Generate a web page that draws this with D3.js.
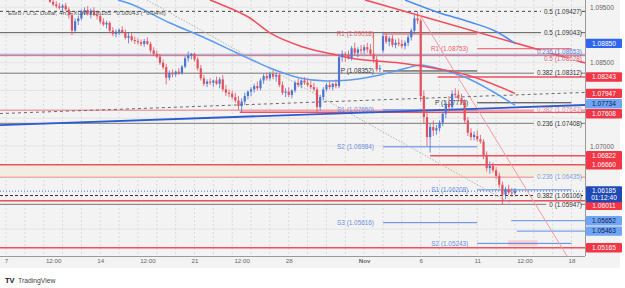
<!DOCTYPE html>
<html>
<head>
<meta charset="utf-8">
<script src="https://cdn.jsdelivr.net/npm/d3@7"></script>
<style>
  body { margin: 0; background: #fff; }
  svg { font-family: "Liberation Sans", Arial, sans-serif; }
</style>
</head>
<body>
<svg id="chart" width="625" height="288"></svg>
<script>
// EUR/USD 4h candles, Oct 9 (08:00 bar) .. Nov 13 (first bar); [open, high, low, close]
var firstBar = 2 + 2 / 6;   // in trading days from Mon Oct 7
var ohlc = [
  // Oct 9
  [1.0966,1.0972,1.0958,1.0960],[1.0960,1.0965,1.0952,1.0955],[1.0955,1.0961,1.0948,1.0952],[1.0952,1.0958,1.0946,1.0949],
  // Oct 10
  [1.0949,1.0956,1.0943,1.0953],[1.0953,1.0958,1.0944,1.0946],[1.0946,1.0950,1.0930,1.0936],[1.0936,1.0940,1.0900,1.0908],[1.0908,1.0930,1.0903,1.0925],[1.0925,1.0935,1.0918,1.0930],
  // Oct 11
  [1.0930,1.0946,1.0927,1.0942],[1.0942,1.0950,1.0936,1.0945],[1.0945,1.0952,1.0935,1.0938],[1.0938,1.0948,1.0930,1.0944],[1.0944,1.0950,1.0934,1.0936],[1.0936,1.0942,1.0928,1.0934],
  // Oct 14
  [1.0934,1.0937,1.0920,1.0924],[1.0924,1.0930,1.0916,1.0919],[1.0919,1.0926,1.0912,1.0922],[1.0922,1.0925,1.0903,1.0908],[1.0908,1.0914,1.0898,1.0902],[1.0902,1.0910,1.0896,1.0906],
  // Oct 15
  [1.0906,1.0912,1.0900,1.0909],[1.0909,1.0916,1.0903,1.0905],[1.0905,1.0910,1.0892,1.0895],[1.0895,1.0904,1.0885,1.0898],[1.0898,1.0903,1.0888,1.0891],[1.0891,1.0897,1.0884,1.0889],
  // Oct 16
  [1.0889,1.0894,1.0883,1.0887],[1.0887,1.0892,1.0880,1.0884],[1.0884,1.0893,1.0879,1.0889],[1.0889,1.0896,1.0882,1.0884],[1.0884,1.0888,1.0868,1.0872],[1.0872,1.0878,1.0862,1.0866],
  // Oct 17
  [1.0866,1.0872,1.0858,1.0861],[1.0861,1.0866,1.0846,1.0850],[1.0850,1.0856,1.0838,1.0842],[1.0842,1.0848,1.0811,1.0823],[1.0823,1.0836,1.0818,1.0832],[1.0832,1.0838,1.0824,1.0829],
  // Oct 18
  [1.0829,1.0836,1.0825,1.0834],[1.0834,1.0840,1.0828,1.0831],[1.0831,1.0846,1.0829,1.0843],[1.0843,1.0862,1.0840,1.0858],[1.0858,1.0870,1.0852,1.0863],[1.0863,1.0868,1.0856,1.0866],
  // Oct 21
  [1.0866,1.0868,1.0852,1.0856],[1.0856,1.0860,1.0836,1.0840],[1.0840,1.0846,1.0818,1.0822],[1.0822,1.0828,1.0808,1.0812],[1.0812,1.0820,1.0806,1.0816],[1.0816,1.0822,1.0810,1.0814],
  // Oct 22
  [1.0814,1.0820,1.0806,1.0818],[1.0818,1.0825,1.0810,1.0812],[1.0812,1.0824,1.0804,1.0820],[1.0820,1.0828,1.0798,1.0802],[1.0802,1.0810,1.0790,1.0796],[1.0796,1.0802,1.0788,1.0794],
  // Oct 23
  [1.0794,1.0800,1.0784,1.0788],[1.0788,1.0796,1.0778,1.0782],[1.0782,1.0790,1.0765,1.0772],[1.0772,1.0786,1.0761,1.0780],[1.0780,1.0796,1.0774,1.0790],[1.0790,1.0800,1.0784,1.0798],
  // Oct 24
  [1.0798,1.0806,1.0790,1.0802],[1.0802,1.0812,1.0796,1.0808],[1.0808,1.0816,1.0800,1.0804],[1.0804,1.0822,1.0800,1.0818],[1.0818,1.0830,1.0812,1.0826],[1.0826,1.0832,1.0818,1.0822],
  // Oct 25
  [1.0822,1.0834,1.0818,1.0830],[1.0830,1.0836,1.0820,1.0825],[1.0825,1.0832,1.0816,1.0828],[1.0828,1.0832,1.0806,1.0810],[1.0810,1.0816,1.0792,1.0796],[1.0796,1.0804,1.0788,1.0798],
  // Oct 28
  [1.0798,1.0806,1.0788,1.0792],[1.0792,1.0802,1.0786,1.0800],[1.0800,1.0818,1.0796,1.0814],[1.0814,1.0822,1.0806,1.0810],[1.0810,1.0820,1.0804,1.0818],[1.0818,1.0824,1.0810,1.0814],
  // Oct 29
  [1.0814,1.0820,1.0806,1.0810],[1.0810,1.0818,1.0802,1.0806],[1.0806,1.0814,1.0798,1.0802],[1.0802,1.0806,1.0761,1.0770],[1.0770,1.0792,1.0764,1.0788],[1.0788,1.0806,1.0782,1.0802],
  // Oct 30
  [1.0802,1.0814,1.0798,1.0810],[1.0810,1.0816,1.0802,1.0806],[1.0806,1.0814,1.0800,1.0812],[1.0812,1.0820,1.0804,1.0808],[1.0808,1.0866,1.0804,1.0860],[1.0860,1.0872,1.0852,1.0866],
  // Oct 31
  [1.0866,1.0870,1.0852,1.0864],[1.0864,1.0872,1.0856,1.0858],[1.0858,1.0880,1.0854,1.0876],[1.0876,1.0886,1.0862,1.0868],[1.0868,1.0878,1.0860,1.0874],[1.0874,1.0882,1.0866,1.0872],
  // Nov 1
  [1.0872,1.0882,1.0866,1.0878],[1.0878,1.0886,1.0868,1.0874],[1.0874,1.0884,1.0862,1.0866],[1.0866,1.0905,1.0850,1.0856],[1.0856,1.0862,1.0834,1.0838],[1.0838,1.0846,1.0833,1.0840],
  // Nov 4
  [1.0872,1.0906,1.0868,1.0898],[1.0898,1.0904,1.0884,1.0888],[1.0888,1.0898,1.0880,1.0894],[1.0894,1.0900,1.0878,1.0882],[1.0882,1.0892,1.0876,1.0886],[1.0886,1.0894,1.0880,1.0884],
  // Nov 5
  [1.0884,1.0892,1.0876,1.0880],[1.0880,1.0890,1.0874,1.0886],[1.0886,1.0900,1.0880,1.0896],[1.0896,1.0912,1.0890,1.0908],[1.0908,1.0936,1.0902,1.0930],[1.0930,1.0943,1.0920,1.0926],
  // Nov 6
  [1.0926,1.0930,1.0780,1.0790],[1.0790,1.0800,1.0740,1.0752],[1.0752,1.0762,1.0700,1.0716],[1.0716,1.0740,1.0688,1.0734],[1.0734,1.0746,1.0718,1.0728],[1.0728,1.0738,1.0720,1.0732],
  // Nov 7
  [1.0732,1.0746,1.0726,1.0742],[1.0742,1.0762,1.0736,1.0758],[1.0758,1.0782,1.0750,1.0776],[1.0776,1.0790,1.0762,1.0770],[1.0770,1.0800,1.0764,1.0794],[1.0794,1.0804,1.0786,1.0792],
  // Nov 8
  [1.0792,1.0800,1.0782,1.0786],[1.0786,1.0794,1.0774,1.0778],[1.0778,1.0784,1.0740,1.0746],[1.0746,1.0752,1.0718,1.0724],[1.0724,1.0732,1.0710,1.0716],[1.0716,1.0726,1.0710,1.0720],
  // Nov 11
  [1.0718,1.0728,1.0708,1.0712],[1.0712,1.0720,1.0704,1.0708],[1.0708,1.0712,1.0676,1.0682],[1.0682,1.0690,1.0654,1.0660],[1.0660,1.0672,1.0650,1.0664],[1.0664,1.0670,1.0652,1.0656],
  // Nov 12
  [1.0656,1.0662,1.0640,1.0646],[1.0646,1.0652,1.0624,1.0630],[1.0630,1.0636,1.0595,1.0612],[1.0612,1.0626,1.0604,1.0622],[1.0622,1.0630,1.0612,1.0616],[1.0616,1.0624,1.0608,1.0615],
  // Nov 13
  [1.0615,1.0624,1.0612,1.06185]
];

var priceTicks = [1.095, 1.09, 1.085, 1.08, 1.075, 1.07, 1.065, 1.06, 1.055];
var timeTicks = [[0,"7"],[2.5,"12:00"],[5,"14"],[7.5,"12:00"],[10,"21"],[12.5,"12:00"],[15,"28"],[19,"Nov"],[22,"6"],[25,"11"],[27.5,"12:00"],[30,"18"]];

// moving averages, [trading day, price]
var maFast = [[5.94,1.09632],[6.47,1.09578],[8.70,1.09217],[10.45,1.08964],[12.25,1.08676],[14.01,1.08405],[15.60,1.08225],[17.03,1.08171],[18.25,1.08189],[19.84,1.08279],[21.27,1.08405],[21.96,1.08459],[23.18,1.08369],[24.46,1.08225],[25.68,1.08009],[27.0,1.07734]];
var maMid = [[10.82,1.09632],[11.35,1.09560],[12.94,1.09307],[14.01,1.09037],[15.76,1.08784],[17.56,1.08640],[18.25,1.08586],[20.90,1.08495],[22.65,1.08405],[24.46,1.08279],[26.21,1.08063],[27.0,1.07947]];
var maSlow = [[21.17,1.09632],[23.02,1.09397],[24.62,1.09235],[26.05,1.09055],[27.0,1.08850]];

// drawn trend lines: [d1, p1, d2, p2]
var trendLines = [
  { pts: [19.05,1.09632,30.72,1.08496], color: "#f04f5d", width: 1.6, dash: null },
  { pts: [21.96,1.09361,29.76,1.05015], color: "#f39aa2", width: 1, dash: null },
  { pts: [7.48,1.09632,26.74,1.05971], color: "#b4b4b4", width: 1, dash: "1.5,1.5" },
  { pts: [-0.32,1.07377,30.72,1.07738], color: "#2c5bd0", width: 1.8, dash: null },
  { pts: [-0.32,1.07584,30.72,1.07965], color: "#6a6a6a", width: 1, dash: "3,3" }
];

// fibonacci levels (full width, label at the right)
var fibLevels = [
  { p: 1.09427, text: "0.5 (1.09427)",   color: "#444",    tc: "#333",    dash: "3,3", dy: 0 },
  { p: 1.09043, text: "0.5 (1.09043)",   color: "#5c5c5c", tc: "#333",    dash: null,  dy: 0 },
  { p: 1.08653, text: "0.236 (1.08653)", color: "#8aa4e2", tc: "#5a7bd0", dash: null,  dy: -2.6 },
  { p: 1.08628, text: "0.5 (1.08628)",   color: "#e8616d", tc: "#e06470", dash: null,  dy: 3.6 },
  { p: 1.08312, text: "0.382 (1.08312)", color: "#777",    tc: "#333",    dash: null,  dy: 0 },
  { p: 1.07643, text: "0.382 (1.07643)", color: "#eea0a8", tc: "#e58a94", dash: null,  dy: 0 },
  { p: 1.07408, text: "0.236 (1.07408)", color: "#777",    tc: "#333",    dash: null,  dy: 0 },
  { p: 1.06435, text: "0.236 (1.06435)", color: "#eeaab0", tc: "#7d9fe0", dash: null,  dy: 0 },
  { p: 1.06106, text: "0.382 (1.06106)", color: "#333",    tc: "#333",    dash: "3,2", dy: 0 },
  { p: 1.05947, text: "0 (1.05947)",     color: "#777",    tc: "#333",    dash: null,  dy: 0 }
];

// weekly pivots: label, price, from day, to day
var pivots = [
  ["R1", 1.09018, 20, 25, "#f04f5d"],
  ["P",  1.08352, 20, 25, "#333"],
  ["S1", 1.07650, 20, 25, "#5b84e0"],
  ["S2", 1.06984, 20, 25, "#5b84e0"],
  ["S3", 1.05616, 20, 25, "#5b84e0"],
  ["R1", 1.08753, 25, 30, "#f04f5d"],
  ["P",  1.07778, 25, 30, "#333"],
  ["S1", 1.06208, 25, 30, "#5b84e0"],
  ["S2", 1.05243, 25, 30, "#5b84e0"]
];

// horizontal rays with a price tag on the axis
var rays = [
  [1.08243, 22.9, "#f04f5d"],
  [1.07608, 12.4, "#f04f5d"],
  [1.06822, 22.5, "#f04f5d"],
  [1.06660, -1,   "#f04f5d"],
  [1.06011, -1,   "#f04f5d"],
  [1.05165, -1,   "#f04f5d"],
  [1.05652, 26.8, "#7aa3ee"],
  [1.05463, 27.1, "#7aa3ee"]
];

// price tags on the axis: price, fill, text colour, nudge (px) where tags collide
var axisTags = [
  [1.08850, "#2f66f0", "#fff", 0],
  [1.08243, "#f23645", "#fff", 0],
  [1.07947, "#f23645", "#fff", 0],
  [1.07734, "#6fa4f6", "#10204a", -1.5],
  [1.07608, "#f23645", "#fff", 1.5],
  [1.06822, "#f23645", "#fff", 0],
  [1.06660, "#f23645", "#fff", 0],
  [1.06011, "#f23645", "#fff", 4.5],
  [1.05652, "#6fa4f6", "#10204a", 0],
  [1.05463, "#6fa4f6", "#10204a", 0],
  [1.05165, "#f23645", "#fff", 0]
];

var lastPrice = 1.06185;
var countdown = "01:12:40";
var zoneTop = 1.06660, zoneBottom = 1.06435;

var plotR = 585, plotB = 256;
var upColor = "#4c74d2", downColor = "#e3505d";

var x = d3.scaleLinear().domain([0, 30]).range([6, 571.5]);
var y = d3.scaleLinear().domain([1.095, 1.05165]).range([7.3, 247.7]);

var svg = d3.select("#chart");

svg.append("rect").attr("width", 620).attr("height", 268).attr("fill", "#f3f3f3");

svg.append("clipPath").attr("id", "plot")
  .append("rect").attr("width", plotR).attr("height", plotB);

var plot = svg.append("g").attr("clip-path", "url(#plot)");

// grid
plot.selectAll(".hgrid").data(priceTicks).enter().append("line")
  .attr("x1", 0).attr("x2", plotR)
  .attr("y1", function(d) { return y(d); }).attr("y2", function(d) { return y(d); })
  .attr("stroke", "#e5e5e5");
plot.selectAll(".vgrid").data(d3.range(0, 31)).enter().append("line")
  .attr("x1", function(d) { return x(d); }).attr("x2", function(d) { return x(d); })
  .attr("y1", 0).attr("y2", plotB)
  .attr("stroke", "#dadada").attr("stroke-dasharray", "2,2");

// zone
plot.append("rect")
  .attr("x", 0).attr("width", plotR)
  .attr("y", y(zoneTop)).attr("height", y(zoneBottom) - y(zoneTop))
  .attr("fill", "#f3ece1");

// faint highlight near S2
plot.append("rect")
  .attr("x", x(26.65)).attr("width", x(28.2) - x(26.65))
  .attr("y", y(1.05300)).attr("height", y(1.05200) - y(1.05300))
  .attr("fill", "#f6c8cc").attr("opacity", 0.8);

// fib lines
plot.selectAll(".fib").data(fibLevels).enter().append("line")
  .attr("x1", 0).attr("x2", plotR)
  .attr("y1", function(d) { return y(d.p); }).attr("y2", function(d) { return y(d.p); })
  .attr("stroke", function(d) { return d.color; })
  .attr("stroke-width", function(d) { return d.color === "#eea0a8" || d.color === "#eeaab0" ? 1.5 : 1; })
  .attr("stroke-dasharray", function(d) { return d.dash; });

// rays
plot.selectAll(".ray").data(rays).enter().append("line")
  .attr("x1", function(d) { return Math.max(0, x(d[1])); }).attr("x2", plotR)
  .attr("y1", function(d) { return y(d[0]); }).attr("y2", function(d) { return y(d[0]); })
  .attr("stroke", function(d) { return d[2]; })
  .attr("stroke-width", function(d) { return d[2] === "#f04f5d" ? 1.6 : 1.2; });

// pivots
plot.selectAll(".piv").data(pivots).enter().append("line")
  .attr("x1", function(d) { return x(d[2]); }).attr("x2", function(d) { return x(d[3]); })
  .attr("y1", function(d) { return y(d[1]); }).attr("y2", function(d) { return y(d[1]); })
  .attr("stroke", function(d) { return d[4]; }).attr("stroke-width", 1);
plot.selectAll(".pivt").data(pivots).enter().append("text")
  .attr("x", function(d) { return x(d[2]) - 9; })
  .attr("y", function(d) { return y(d[1]) + 2.2; })
  .attr("text-anchor", "end").attr("font-size", 6.4)
  .attr("fill", function(d) { return d[4] === "#333" ? "#333" : (d[4] === "#f04f5d" ? "#ea5f6b" : "#6b8fe0"); })
  .text(function(d) { return d[0] + " (" + d[1].toFixed(5) + ")"; });

// trend lines
plot.selectAll(".trend").data(trendLines).enter().append("line")
  .attr("x1", function(d) { return x(d.pts[0]); }).attr("y1", function(d) { return y(d.pts[1]); })
  .attr("x2", function(d) { return x(d.pts[2]); }).attr("y2", function(d) { return y(d.pts[3]); })
  .attr("stroke", function(d) { return d.color; })
  .attr("stroke-width", function(d) { return d.width; })
  .attr("stroke-dasharray", function(d) { return d.dash; });

// moving averages
var maLine = d3.line()
  .x(function(d) { return x(d[0]); })
  .y(function(d) { return y(d[1]); })
  .curve(d3.curveMonotoneX);
[[maFast, "#5a9cf5"], [maMid, "#f04f5d"], [maSlow, "#4b8bf2"]].forEach(function(m) {
  plot.append("path").datum(m[0]).attr("d", maLine)
    .attr("fill", "none").attr("stroke", m[1]).attr("stroke-width", 1.5);
});

// current price line
plot.append("line")
  .attr("x1", 0).attr("x2", plotR)
  .attr("y1", y(lastPrice)).attr("y2", y(lastPrice))
  .attr("stroke", upColor).attr("stroke-dasharray", "1,2");

// candles
var bars = plot.selectAll(".bar").data(ohlc).enter().append("g");
bars.append("line")
  .attr("x1", function(d, i) { return x(firstBar + i / 6); })
  .attr("x2", function(d, i) { return x(firstBar + i / 6); })
  .attr("y1", function(d) { return y(d[1]); })
  .attr("y2", function(d) { return y(d[2]); })
  .attr("stroke", function(d) { return d[3] >= d[0] ? upColor : downColor; })
  .attr("stroke-width", 0.8);
bars.append("rect")
  .attr("x", function(d, i) { return x(firstBar + i / 6) - 1.1; })
  .attr("width", 2.2)
  .attr("y", function(d) { return y(Math.max(d[0], d[3])); })
  .attr("height", function(d) { return Math.max(0.8, Math.abs(y(d[0]) - y(d[3]))); })
  .attr("fill", function(d) { return d[3] >= d[0] ? upColor : downColor; });

// fib labels (right aligned, line broken under text)
var fibG = plot.selectAll(".fibt").data(fibLevels).enter().append("g");
fibG.each(function(d) {
  var g = d3.select(this);
  var t = g.append("text")
    .attr("x", plotR - 3).attr("y", y(d.p) + 2.2 + d.dy)
    .attr("text-anchor", "end").attr("font-size", 6.4)
    .attr("fill", d.tc).text(d.text);
  var w = t.node().getComputedTextLength();
  g.insert("rect", "text")
    .attr("x", plotR - 6 - w).attr("width", w + 2)
    .attr("y", y(d.p) - 1.5 + d.dy).attr("height", 3)
    .attr("fill", "#f3f3f3");
});

// axes
svg.append("line").attr("x1", plotR + 0.5).attr("x2", plotR + 0.5).attr("y1", 0).attr("y2", plotB)
  .attr("stroke", "#9a9a9a");
svg.append("line").attr("x1", 0).attr("x2", plotR).attr("y1", plotB + 0.5).attr("y2", plotB + 0.5)
  .attr("stroke", "#9a9a9a");

// price labels hidden where an axis tag sits on top of them
var tagYs = axisTags.map(function(t) { return y(t[0]) + t[3]; }).concat([y(lastPrice) + 3]);
var shownTicks = priceTicks.filter(function(p) {
  return tagYs.every(function(ty) { return Math.abs(ty - y(p)) > 9; });
});
var yAxis = d3.axisRight(y).tickValues(shownTicks).tickSize(0).tickPadding(0)
  .tickFormat(d3.format(".5f"));
var ya = svg.append("g").attr("transform", "translate(" + (plotR + 5) + ",0)").call(yAxis);
ya.select(".domain").remove();
ya.selectAll("text").attr("font-size", 6.6).attr("fill", "#666").attr("font-family", "Liberation Sans, Arial, sans-serif");

var xAxis = d3.axisBottom(x).tickValues(timeTicks.map(function(t) { return t[0]; }))
  .tickSize(0).tickPadding(0)
  .tickFormat(function(d) { return timeTicks.filter(function(t) { return t[0] === d; })[0][1]; });
var xa = svg.append("g").attr("transform", "translate(0," + (plotB + 3) + ")").call(xAxis);
xa.select(".domain").remove();
xa.selectAll("text").attr("font-size", 6.2).attr("fill", "#666").attr("font-family", "Liberation Sans, Arial, sans-serif")
  .attr("font-weight", function(d) { return d === 19 ? "bold" : null; });

// axis tags
var tags = svg.selectAll(".tag").data(axisTags).enter().append("g")
  .attr("transform", function(d) { return "translate(" + (plotR + 1) + "," + (y(d[0]) + d[3]) + ")"; });
tags.append("rect").attr("x", 0).attr("y", -4.7).attr("width", 36).attr("height", 9.4).attr("rx", 1)
  .attr("fill", function(d) { return d[1]; });
tags.append("text").attr("x", 18).attr("y", 2.3).attr("text-anchor", "middle")
  .attr("font-size", 6.6).attr("fill", function(d) { return d[2]; })
  .text(function(d) { return d[0].toFixed(5); });

var last = svg.append("g").attr("transform", "translate(" + (plotR + 1) + "," + y(lastPrice) + ")");
last.append("rect").attr("x", 0).attr("y", -5).attr("width", 36).attr("height", 16).attr("rx", 1)
  .attr("fill", "#1f49b6");
last.append("text").attr("x", 18).attr("y", 2.3).attr("text-anchor", "middle")
  .attr("font-size", 6.6).attr("fill", "#fff").text(lastPrice.toFixed(5));
last.append("text").attr("x", 18).attr("y", 9.3).attr("text-anchor", "middle")
  .attr("font-size", 6.6).attr("fill", "#fff").text(countdown);

// title
svg.append("text").attr("x", 8).attr("y", 15).attr("font-size", 6.2).attr("fill", "#555")
  .text("Euro / U.S. Dollar, 4h, FXCM  1.06185  \u22120.00043 (\u22120.04%)");

// logo
svg.append("text").attr("x", 5).attr("y", 283).attr("font-size", 7.5).attr("font-weight", "bold")
  .attr("fill", "#131722").text("TV");
svg.append("text").attr("x", 18).attr("y", 283).attr("font-size", 6.8).attr("fill", "#444")
  .text("TradingView");
</script>
</body>
</html>
